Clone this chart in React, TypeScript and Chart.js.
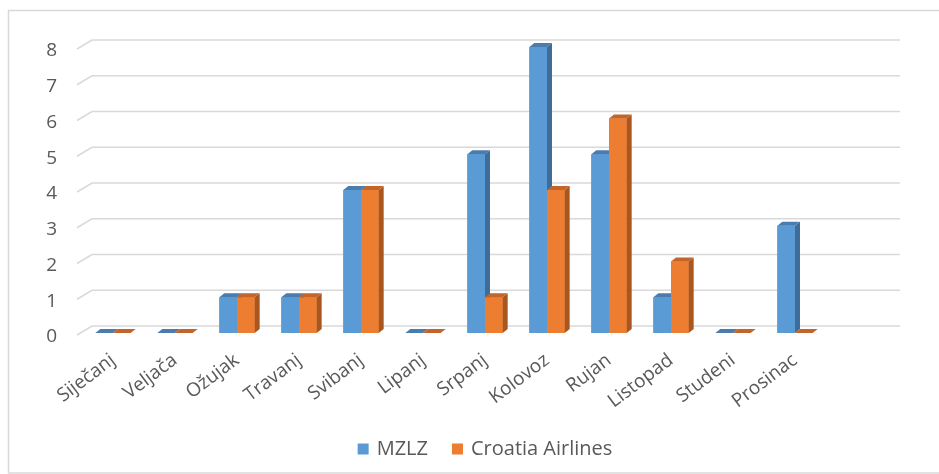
import React, { useEffect, useRef } from 'react';
import { Chart, registerables } from 'chart.js';

Chart.register(...registerables);

const categories = ['Siječanj', 'Veljača', 'Ožujak', 'Travanj', 'Svibanj', 'Lipanj', 'Srpanj', 'Kolovoz', 'Rujan', 'Listopad', 'Studeni', 'Prosinac'];
const mzlz = [0, 0, 1, 1, 4, 0, 5, 8, 5, 1, 0, 3];
const croatiaAirlines = [0, 0, 1, 1, 4, 0, 1, 4, 6, 2, 0, 0];
const seriesNames = ['MZLZ', 'Croatia Airlines'];
const yTicks = [0, 1, 2, 3, 4, 5, 6, 7, 8];

const frontColors = ['#5b9bd5', '#ed7d31'];
const sideColors = ['#3f6d99', '#a9561f'];
const topColors = ['#4a7cae', '#c3642a'];

const DEPTH_X = 5;
const DEPTH_Y = 4;
const FONT = '"Open Sans", sans-serif';
const TEXT = '#595959';
const GRID = '#d9d9d9';

const threeD = {
  id: 'threeD',
  beforeDraw(chart: any) {
    const { ctx } = chart;
    ctx.save();
    ctx.fillStyle = '#ffffff';
    ctx.fillRect(0, 0, chart.width, chart.height);
    ctx.strokeStyle = GRID;
    ctx.lineWidth = 1.5;
    ctx.strokeRect(8.5, 10.5, chart.width + 20, chart.height - 11.5);
    ctx.restore();
  },
  beforeDatasetsDraw(chart: any) {
    const { ctx, chartArea } = chart;
    const y = chart.scales.y;
    ctx.save();
    ctx.strokeStyle = GRID;
    ctx.lineWidth = 1.5;
    yTicks.forEach((v) => {
      const yf = y.getPixelForValue(v);
      ctx.beginPath();
      ctx.moveTo(chartArea.left - 5, yf + 2);
      ctx.lineTo(chartArea.left + 10, yf - 7);
      ctx.lineTo(chartArea.right + 74, yf - 7);
      ctx.stroke();
    });
    ctx.restore();
  },
  afterDatasetsDraw(chart: any) {
    const { ctx } = chart;
    ctx.save();
    chart.data.datasets.forEach((_ds: any, di: number) => {
      const meta = chart.getDatasetMeta(di);
      meta.data.forEach((bar: any) => {
        const { x, y: top, base, width } = bar.getProps(['x', 'y', 'base', 'width'], true);
        const l = x - width / 2;
        const r = x + width / 2;
        ctx.fillStyle = frontColors[di];
        ctx.fillRect(l, top, r - l, base - top);
        ctx.fillStyle = sideColors[di];
        ctx.beginPath();
        ctx.moveTo(r, top);
        ctx.lineTo(r + DEPTH_X, top - DEPTH_Y);
        ctx.lineTo(r + DEPTH_X, base - DEPTH_Y);
        ctx.lineTo(r, base);
        ctx.closePath();
        ctx.fill();
        ctx.fillStyle = topColors[di];
        ctx.beginPath();
        ctx.moveTo(l, top);
        ctx.lineTo(l + DEPTH_X, top - DEPTH_Y);
        ctx.lineTo(r + DEPTH_X, top - DEPTH_Y);
        ctx.lineTo(r, top);
        ctx.closePath();
        ctx.fill();
      });
    });
    ctx.restore();
  },
  afterDraw(chart: any) {
    // legend, centred under the plot like the Excel original
    const { ctx } = chart;
    ctx.save();
    ctx.font = `20px ${FONT}`;
    ctx.textBaseline = 'middle';
    ctx.textAlign = 'left';
    const box = 11;
    const gapText = 8;
    const gapItem = 24;
    const names = chart.data.datasets.map((d: any) => d.label);
    const widths = names.map((n: string) => ctx.measureText(n).width);
    const total = widths.reduce((a: number, w: number) => a + box + gapText + w, 0) + gapItem * (names.length - 1);
    const centerX = 485;
    const cy = 449;
    let x = centerX - total / 2;
    names.forEach((n: string, i: number) => {
      ctx.fillStyle = frontColors[i];
      ctx.fillRect(x, cy - box / 2, box, box);
      x += box + gapText;
      ctx.fillStyle = TEXT;
      ctx.fillText(n, x, cy);
      x += widths[i] + gapItem;
    });
    ctx.restore();
  },
};

export default function App() {
  const ref = useRef<HTMLCanvasElement>(null);
  useEffect(() => {
    if (!ref.current) return;
    const chart = new Chart(ref.current, {
      type: 'bar',
      data: {
        labels: categories,
        datasets: [
          { label: seriesNames[0], data: mzlz, backgroundColor: frontColors[0], borderWidth: 0 },
          { label: seriesNames[1], data: croatiaAirlines, backgroundColor: frontColors[1], borderWidth: 0 },
        ],
      },
      options: {
        animation: false,
        responsive: true,
        maintainAspectRatio: false,
        layout: { padding: { left: 31, right: 0, top: 47, bottom: 21 } },
        datasets: { bar: { categoryPercentage: 0.57, barPercentage: 1 } },
        scales: {
          x: {
            grid: { display: false, drawTicks: false },
            border: { display: false },
            ticks: {
              autoSkip: false,
              minRotation: 37,
              maxRotation: 37,
              padding: 16,
              labelOffset: 0,
              color: TEXT,
              font: { family: FONT, size: 19 },
            },
            afterFit: (s: any) => { s.height = 120; },
          },
          y: {
            min: 0,
            max: 8,
            grid: { display: false, drawTicks: false },
            border: { display: false },
            ticks: {
              stepSize: 1,
              padding: 25,
              labelOffset: 4,
              color: TEXT,
              font: { family: FONT, size: 19 },
            },
            afterFit: (s: any) => { s.width = 51; },
          },
          spacer: {
            type: 'linear',
            position: 'right',
            display: true,
            grid: { display: false, drawTicks: false },
            border: { display: false },
            ticks: { display: false },
            afterFit: (s: any) => { s.width = 113; },
          },
        },
        plugins: {
          legend: { display: false },
          tooltip: { enabled: false },
        },
      },
      plugins: [threeD],
    } as any);
    return () => chart.destroy();
  }, []);
  return (
    <div style={{ position: 'fixed', left: 0, top: 0, width: 939, height: 474, background: '#fff' }}>
      <canvas ref={ref} />
    </div>
  );
}
